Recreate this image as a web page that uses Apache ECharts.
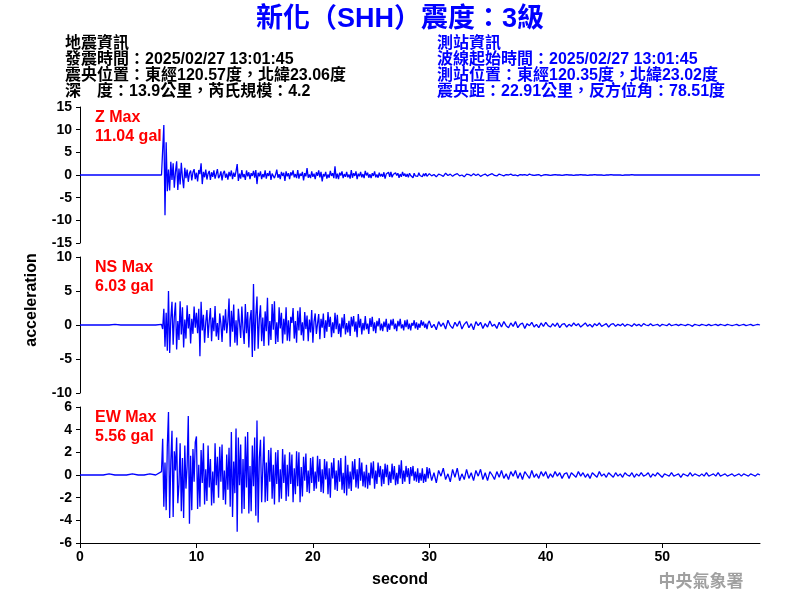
<!DOCTYPE html>
<html><head><meta charset="utf-8">
<script src="https://cdn.jsdelivr.net/npm/echarts@6/dist/echarts.min.js"></script>
<style>html,body{margin:0;padding:0;background:#fff}#c{width:800px;height:600px}</style>
</head><body><div id="c"></div>
<script>
// sampling layout of the three data segments (seconds)
const PRE_T0 = 0, PRE_DT = 0.5;
const MAIN_T0 = 7.0, MAIN_DT = 0.1;
const TAIL_T0 = 30.0, TAIL_DT = 0.2;

const xTicks = [0, 10, 20, 30, 40, 50];
const channels = ['Z', 'NS', 'EW'];
const maxLabels = ['11.04 gal', '6.03 gal', '5.56 gal'];
const yRanges = [[-15, 15, 5], [-10, 10, 5], [-6, 6, 2]];

const zPre = [0,0,0,0,0,0,0,0,0,0,0,0,0,0];
const zMain = [
0,0.4,11.04,-8.9,7.2,-3.6,1.2,-3.4,2.9,-1.1,
2.6,-2.8,0.7,3.0,-3.3,1.4,-2.1,2.7,-0.6,-2.9,
1.6,-0.7,1.2,-1.5,0.4,1.0,-1.2,0.6,1.3,-0.9,
0.5,-1.4,1.1,0.2,2.6,-2.0,0.7,-0.5,1.2,-1.0,
0.3,0.9,-1.1,0.6,-0.4,1.0,-0.8,0.2,1.3,-0.7,
-0.2,0.8,-1.2,0.4,0.9,-0.6,0.3,-1.0,0.7,-0.3,
1.0,-0.9,0.5,-0.4,0.8,2.4,-1.3,0.3,-0.8,1.1,
-0.5,0.2,-1.1,1.0,-0.3,0.6,-0.9,0.4,-0.2,0.9,
-0.6,1.1,-2.0,0.5,-0.3,0.8,-0.9,0.2,-0.5,1.0,
-0.8,0.4,-0.2,0.9,-1.1,0.3,0.6,-0.7,0.1,1.2,
-0.6,0.2,-0.9,0.7,-0.2,0.5,-1.3,0.8,-0.3,0.4,
-0.9,0.6,-0.1,1.0,-0.5,0.2,-0.7,1.1,-0.8,0.3,
-0.2,0.7,-1.2,0.4,-0.3,1.5,-0.6,0.1,-0.7,0.8,
-0.4,0.3,-0.9,0.6,-0.2,1.0,-0.5,0.7,-1.4,0.2,
-0.3,0.7,-0.8,0.1,-0.6,0.9,-0.2,0.4,-0.7,1.9,
-0.8,0.3,-0.9,0.5,-0.1,0.8,-0.7,0.2,-0.4,0.7,
-0.5,0.1,-0.8,1.1,-0.6,0.4,-0.2,0.8,-0.9,0.3,
-0.3,0.7,-0.5,0.2,-0.7,0.9,-0.1,0.5,-0.6,0.2,
-0.7,0.4,-0.2,0.8,-0.5,0.1,-0.6,0.5,-0.3,0.2,
-0.4,0.6,-0.8,0.2,-0.1,0.6,-0.4,0.7,-0.5,0.1,
-0.3,0.5,-0.1,0.4,-0.6,0.2,-0.4,0.7,-0.2,0.3,
-0.4,0.2,-0.5,0.4,-0.1,0.3,-0.6,0.4,-0.2,0.1,
-0.3,0.5,-0.1,0.2,-0.4,0.3,-0.2,0.4,-0.3,0.1];
const zTail = [
0.3,-0.2,0.1,-0.4,0.2,0,-0.3,0.4,-0.1,0.2,
-0.3,0.1,0.3,-0.2,0,-0.4,0.2,0.1,-0.2,0.3,
-0.1,0.2,-0.3,0,0.2,-0.2,0.1,0.3,-0.1,-0.2,
0.2,0,-0.2,0.1,0,0.2,-0.1,0,-0.2,0.1,
0,0.1,-0.1,0.2,0,-0.1,0,0.1,-0.2,0,
0.1,0,-0.1,0,0.1,0,0,-0.1,0,0.1,
0,0,-0.1,0,0,0.1,0,0,-0.1,0,
0,0.1,0,0,0,-0.1,0,0,0.1,0,
0,0,0,-0.1,0,0,0,0.1,0,0,
0,0,0,0,0,0,0,0,0,0,
0,0,0,0,0,0,0,0,0,0,
0,0,0,0,0,0,0,0,0,0,
0,0,0,0,0,0,0,0,0,0,
0,0,0,0,0,0,0,0,0,0,
0,0,0];

const nsPre = [0,0,0,0,0,0,0.1,0,0,0,0,0,0,0];
const nsMain = [
0.1,-0.6,2.4,-3.2,1.8,-3.8,5.0,-4.1,0.9,3.4,
-2.9,1.2,3.3,-3.6,0.6,-2.2,3.5,-1.4,2.6,-3.3,
0.8,-2.0,2.9,-0.5,1.6,-2.7,0.9,-1.3,2.7,-0.4,
1.8,-1.2,2.4,-4.6,3.4,-0.8,1.5,-2.6,0.4,2.2,
-1.9,0.6,2.5,-2.4,1.1,-0.9,2.8,-1.7,0.3,-2.2,
1.7,0.2,-2.5,1.4,-0.8,2.3,-1.2,0.5,3.9,-3.2,
2.1,-1.0,3.0,-2.6,0.7,-3.0,2.4,0.3,-1.9,2.7,
-0.6,-2.8,3.1,-1.2,1.9,-3.3,0.8,2.2,-4.7,6.03,
-3.8,1.3,4.2,-3.5,0.9,2.9,-2.4,1.1,-3.1,2.0,
-0.9,4.0,-3.0,0.6,-2.2,3.1,-0.7,3.5,-2.8,0.4,
-2.5,2.6,-0.5,1.8,-2.7,0.9,-1.4,2.6,-2.3,0.7,
-2.4,1.2,0.3,2.5,-2.0,0.6,-2.6,2.1,-0.8,2.6,
-1.5,0.4,-2.3,1.9,-0.6,1.4,-2.4,0.8,-1.1,2.2,
-2.6,0.5,1.7,-1.3,0.2,1.6,-2.1,0.9,-0.4,1.7,
-1.9,0.7,-1.0,1.9,-0.3,1.2,-1.8,0.4,-1.2,1.8,
-0.6,1.5,-1.3,0.2,-1.8,1.1,-0.5,1.6,-1.4,0.3,
-1.1,0.6,-1.6,1.2,-0.2,1.3,-1.0,0.5,-1.8,1.6,
-0.4,0.9,-1.4,0.3,-0.8,1.3,-0.6,0.2,-1.3,1.0,
-0.3,1.2,-0.9,0.4,-1.2,0.6,-0.2,1.0,-0.8,0.2,
-0.9,0.5,-0.3,0.9,-1.0,0.2,-0.7,0.8,-0.1,0.9,
-0.6,0.2,-0.9,0.6,-0.2,0.9,-0.5,0.1,-0.8,0.7,
-0.3,0.8,-0.6,0.2,-0.8,0.3,-0.1,0.7,-0.5,0.4,
-0.7,0.2,-0.4,0.7,-0.1,0.5,-0.4,0.2,-0.6,0.3];
const nsTail = [
0.6,-0.4,0.1,-0.7,0.5,-0.2,0.3,-0.6,0.7,-0.1,
-0.5,0.4,-0.2,0.6,-0.6,0.1,0.5,-0.4,0.2,-0.7,
0.5,-0.1,0.4,-0.5,0.2,-0.3,0.6,-0.2,0.1,-0.5,
0.4,-0.3,0.5,-0.1,-0.4,0.3,-0.2,0.5,-0.4,0.1,
0.3,-0.5,0.2,-0.1,0.4,-0.3,0.1,-0.4,0.3,-0.2,
0.4,-0.1,-0.3,0.2,-0.2,0.3,-0.4,0.1,0.2,-0.3,
0.1,-0.2,0.3,-0.1,0.2,-0.3,0,0.3,-0.2,0.1,
-0.3,0.2,-0.1,0.3,-0.2,0,0.2,-0.3,0.1,0.2,
-0.2,0.1,-0.1,0.2,-0.2,0.1,0,-0.2,0.2,-0.1,
0.1,-0.2,0.2,0,-0.1,0.2,-0.1,0,0.1,-0.2,
0.1,0,-0.1,0.2,-0.1,0,0.1,-0.1,0.1,0,
-0.1,0.1,0,-0.2,0.1,0,-0.1,0.1,0,-0.1,
0.1,-0.1,0,0.1,-0.1,0.1,0,-0.1,0.1,0,
-0.1,0,0.1,-0.1,0,0.1,-0.1,0,0.1,-0.1,
0,0.1,0];

const ewPre = [0,0,0,0,0,0.1,0,0,0,0.1,0,0,0.1,0];
const ewMain = [
0.3,3.2,-2.8,1.1,-3.1,2.6,5.56,-3.8,1.2,3.9,
-3.7,2.1,0.4,3.3,-2.5,-0.8,2.8,-3.2,1.5,-3.8,
2.6,-1.2,0.8,5.2,-4.3,1.7,-3.1,2.3,-0.6,2.9,
3.4,-3.0,0.9,-2.8,2.2,-0.7,2.8,-2.6,0.5,-2.3,
2.6,-1.1,1.4,-2.7,0.3,-2.5,2.8,-0.9,1.6,-2.0,
2.5,-0.6,2.7,-2.2,0.4,-2.6,1.8,-1.3,2.4,-2.8,
3.8,-3.7,1.2,-1.6,4.1,-5.0,3.3,-0.9,2.7,-3.4,
1.4,-3.0,3.4,-1.1,3.8,-3.4,0.8,-3.2,2.6,-1.0,
3.3,-3.6,4.8,-4.2,1.5,3.1,-2.4,0.6,3.4,-2.4,
1.1,-2.3,2.2,-0.6,2.4,-2.1,0.9,-2.6,2.0,-0.8,
2.2,-2.4,0.5,-2.1,2.3,-0.7,1.8,-2.3,0.9,-1.9,
2.0,-0.8,1.8,-2.4,0.6,-1.7,2.1,-1.0,2.0,-2.4,
0.7,-1.9,1.6,-0.5,1.9,-1.5,0.4,-1.6,1.5,-0.7,
1.6,-1.4,0.3,-1.2,1.7,-0.6,1.4,-1.5,0.5,-1.6,
1.4,-0.4,1.2,-1.7,0.6,-2.0,1.1,-0.3,1.5,-1.3,
0.4,-1.4,1.3,-0.6,1.5,-1.3,0.2,-1.6,1.7,-1.8,
0.9,-1.2,0.3,-1.4,1.2,-0.4,1.4,-1.1,0.5,-1.2,
1.5,-0.5,1.1,-1.0,0.3,-1.1,0.9,-1.2,0.2,-0.9,
1.1,-0.3,1.2,-1.2,0.4,-0.8,1.1,-0.2,0.8,-1.0,
0.5,-0.8,1.0,-0.2,0.9,-0.9,0.3,-0.7,1.0,-0.4,
0.8,-0.9,0.2,-0.8,0.9,-0.3,1.3,-0.8,0.4,-0.6,
0.8,-0.2,0.6,-0.8,0.7,-0.1,0.8,-0.5,0.3,-0.6,
0.6,-0.7,0.2,-0.5,0.6,-0.7,0.1,-0.6,0.7,-0.3];
const ewTail = [
0.6,-0.5,0.2,-0.7,0.4,-0.1,0.6,-0.4,0.1,-0.6,
0.5,-0.2,0.6,-0.5,0.1,-0.4,0.5,-0.3,0.2,-0.5,
0.4,-0.1,0.5,-0.4,0.2,-0.5,0.3,0,-0.4,0.3,
-0.2,0.4,-0.3,0.1,-0.4,0.3,-0.1,0.4,-0.3,0.2,
-0.4,0.3,0,-0.3,0.4,-0.2,0.1,-0.3,0.3,-0.1,
0.3,-0.3,0.1,-0.2,0.3,-0.1,0.2,-0.3,0.1,0.2,
-0.3,0.2,0,-0.2,0.3,-0.1,0.2,-0.2,0.1,-0.3,
0.2,0,-0.2,0.3,-0.1,0.1,-0.2,0.2,0,-0.2,
0.2,-0.1,0.1,-0.2,0.2,0,-0.1,0.2,-0.2,0.1,
-0.1,0.2,-0.1,0,0.2,-0.2,0.1,-0.1,0.2,0,
-0.2,0.1,0,-0.1,0.2,-0.1,0,0.1,-0.2,0.1,
0,-0.1,0.2,-0.1,0.1,0,-0.1,0.1,-0.1,0.2,
-0.1,0,0.1,-0.1,0.2,-0.1,0,0.1,-0.1,0,
0.1,-0.1,0,0.1,-0.1,0.1,0,-0.1,0.1,0,
-0.1,0.1,0];

const infoLeft = ['地震資訊', '發震時間：2025/02/27 13:01:45', '震央位置：東經120.57度，北緯23.06度', '深　度：13.9公里，芮氏規模：4.2'];
const infoRight = ['測站資訊', '波線起始時間：2025/02/27 13:01:45', '測站位置：東經120.35度，北緯23.02度', '震央距：22.91公里，反方位角：78.51度'];
const titleText = '新化（SHH）震度：3級';

function build(pre, main, tail) {
  const out = [];
  pre.forEach((v, i) => out.push([+(PRE_T0 + i * PRE_DT).toFixed(2), v]));
  main.forEach((v, i) => out.push([+(MAIN_T0 + i * MAIN_DT).toFixed(2), v]));
  tail.forEach((v, i) => out.push([+(TAIL_T0 + i * TAIL_DT).toFixed(2), v]));
  return out;
}
const seriesData = [build(zPre, zMain, zTail), build(nsPre, nsMain, nsTail), build(ewPre, ewMain, ewTail)];

const FONT = '"Liberation Sans", Arial, "Noto Sans CJK TC", sans-serif';
const tops = [107, 257, 407];
const grids = [], xAxes = [], yAxes = [], series = [];
for (let i = 0; i < 3; i++) {
  grids.push({ left: 80, top: tops[i], width: 680, height: 136 });
  const bottom = i === 2;
  xAxes.push({
    gridIndex: i, type: 'value', min: 0, max: 58.4, show: true,
    axisLine: { show: bottom, onZero: false, lineStyle: { color: '#000', width: 1 } },
    axisTick: { show: bottom, length: 5, inside: false, customValues: xTicks, lineStyle: { color: '#000' } },
    axisLabel: { show: bottom, customValues: xTicks, margin: 7, color: '#000', fontWeight: 'bold', fontSize: 14, fontFamily: FONT },
    splitLine: { show: false }
  });
  yAxes.push({
    gridIndex: i, type: 'value', min: yRanges[i][0], max: yRanges[i][1], interval: yRanges[i][2],
    axisLine: { show: true, onZero: false, lineStyle: { color: '#000', width: 1 } },
    axisTick: { show: true, length: 4, lineStyle: { color: '#000' } },
    axisLabel: { margin: 8, color: '#000', fontWeight: 'bold', fontSize: 14, fontFamily: FONT },
    splitLine: { show: false }
  });
  series.push({
    type: 'line', xAxisIndex: i, yAxisIndex: i, data: seriesData[i],
    showSymbol: false, symbol: 'none', sampling: null,
    lineStyle: { color: '#0000ff', width: 1.3 }, animation: false, silent: true
  });
}

const graphics = [];
graphics.push({ type: 'text', left: 'center', top: 6, style: { text: titleText, fill: '#0000ff', font: 'bold 27px ' + FONT } });
infoLeft.forEach((t, i) => graphics.push({ type: 'text', x: 65, y: 44 + i * 16, style: { text: t, fill: '#000', font: 'bold 16px ' + FONT, verticalAlign: 'middle' } }));
infoRight.forEach((t, i) => graphics.push({ type: 'text', x: 437, y: 44 + i * 16, style: { text: t, fill: '#0000ff', font: 'bold 16px ' + FONT, verticalAlign: 'middle' } }));
channels.forEach((c, i) => {
  graphics.push({ type: 'text', x: 95, y: tops[i] + 11, style: { text: c + ' Max', fill: '#ff0000', font: 'bold 16px ' + FONT, verticalAlign: 'middle' } });
  graphics.push({ type: 'text', x: 95, y: tops[i] + 30, style: { text: maxLabels[i], fill: '#ff0000', font: 'bold 16px ' + FONT, verticalAlign: 'middle' } });
});
graphics.push({ type: 'text', x: 32, y: 300, rotation: Math.PI / 2, style: { text: 'acceleration', fill: '#000', font: 'bold 16px ' + FONT, align: 'center', verticalAlign: 'middle' } });
graphics.push({ type: 'text', x: 400, y: 580, style: { text: 'second', fill: '#000', font: 'bold 16px ' + FONT, align: 'center', verticalAlign: 'middle' } });
graphics.push({ type: 'text', x: 701, y: 581, style: { text: '中央氣象署', fill: '#a0a0a0', font: 'bold 17px "Noto Sans CJK TC", sans-serif', align: 'center', verticalAlign: 'middle' } });

const chart = echarts.init(document.getElementById('c'), null, { renderer: 'canvas' });
chart.setOption({
  backgroundColor: '#fff', animation: false,
  grid: grids, xAxis: xAxes, yAxis: yAxes, series: series, graphic: graphics
});
</script></body></html>
